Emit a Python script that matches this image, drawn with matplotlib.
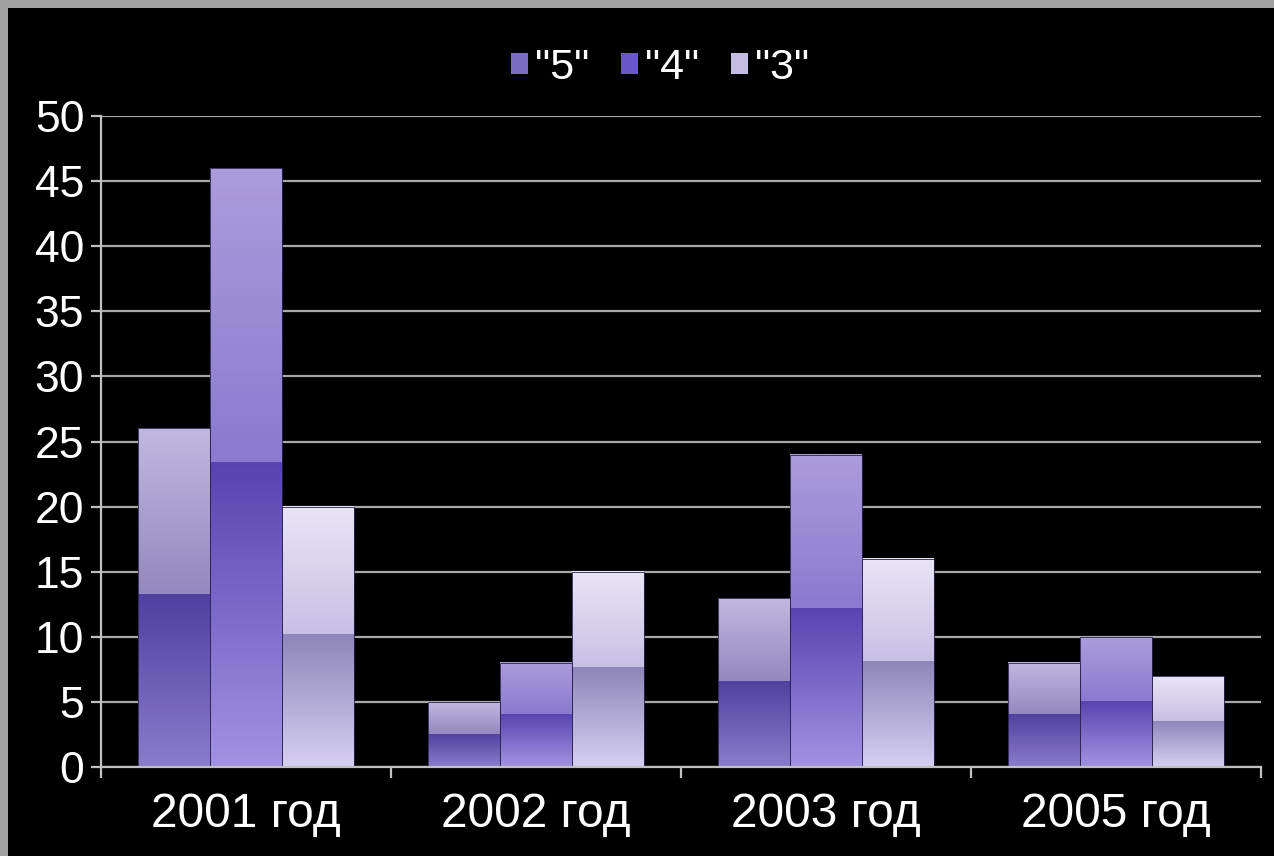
import matplotlib
matplotlib.use("Agg")
import matplotlib.pyplot as plt
import numpy as np
from matplotlib.patches import Patch, Rectangle
from matplotlib.colors import LinearSegmentedColormap

categories = ["2001 год", "2002 год", "2003 год", "2005 год"]
series_names = ['"5"', '"4"', '"3"']
values_5 = [26, 5, 13, 8]
values_4 = [46, 8, 24, 10]
values_3 = [20, 15, 16, 7]
y_ticks = [0, 5, 10, 15, 20, 25, 30, 35, 40, 45, 50]

# gradient stops: (lower-bottom, lower-top, upper-bottom, upper-top)
grad = [
    ("#8a7ccc", "#5040a0", "#9488c0", "#c0b8e0"),
    ("#a292e2", "#5844b0", "#8a7ad0", "#ab9cdc"),
    ("#d6cff2", "#8e86b8", "#c8c0e4", "#e9e5f5"),
]
legend_cols = ["#7a6cc0", "#6a58c8", "#c4bce2"]
split = 0.51

plt.rcParams['font.family'] = ['Liberation Sans', 'DejaVu Sans']

fig = plt.figure(figsize=(12.74, 8.56), dpi=100)
fig.patch.set_facecolor("#a0a0a0")
fig.patches.append(Rectangle((8/1274, 0), 1, 1 - 8/856, transform=fig.transFigure,
                             facecolor="black", edgecolor="none", zorder=-10))

ax = fig.add_axes([101/1274, 89/856, 1160/1274, 651/856])
ax.set_facecolor("black")
ax.patch.set_alpha(0)

x = np.arange(len(categories))
w = 0.248
all_vals = [values_5, values_4, values_3]
offsets = [-w, 0, w]

def gradbar(x0, x1, y0, y1, c0, c1):
    cmap = LinearSegmentedColormap.from_list("g", [c0, c1])
    g = np.linspace(0, 1, 64).reshape(-1, 1)
    ax.imshow(g, cmap=cmap, extent=[x0, x1, y0, y1], origin="lower",
              aspect="auto", zorder=3, interpolation="bilinear")

for si, vals in enumerate(all_vals):
    for xi, v in zip(x, vals):
        x0 = xi + offsets[si] - w / 2
        x1 = x0 + w
        c = grad[si]
        gradbar(x0, x1, 0, v * split, c[0], c[1])
        gradbar(x0, x1, v * split, v, c[2], c[3])
        ax.add_patch(Rectangle((x0, 0), w, v, facecolor="none",
                               edgecolor="#2a2450", lw=0.6, zorder=4))

ax.set_xlim(-0.5, len(categories) - 0.5)
ax.set_ylim(0, 50)
ax.set_yticks(y_ticks)
ax.set_yticklabels([str(t) for t in y_ticks])
ax.yaxis.grid(True, color="#a8a8a8", lw=1.6, zorder=1)
ax.set_axisbelow(True)

ax.set_xticks(x)
ax.set_xticklabels(categories)
ax.set_xticks(np.arange(-0.5, len(categories)), minor=True)
ax.tick_params(axis="x", which="major", length=0, pad=18, labelsize=34.5, labelcolor="white")
ax.tick_params(axis="x", which="minor", length=8, width=1.6, color="#c0c0c0", direction="out")
ax.tick_params(axis="y", length=7, width=1.6, color="#c0c0c0", pad=5, labelsize=32, labelcolor="white")

for s in ["top", "right"]:
    ax.spines[s].set_visible(False)
ax.spines["left"].set_color("#c0c0c0")
ax.spines["left"].set_linewidth(1.6)
ax.spines["bottom"].set_color("#c0c0c0")
ax.spines["bottom"].set_linewidth(1.6)
ax.spines["bottom"].set_zorder(5)

handles = [Patch(facecolor=c, edgecolor="none") for c in legend_cols]
leg = fig.legend(handles, series_names, loc="center", bbox_to_anchor=(660/1274, 1 - 68/856),
                 ncol=3, frameon=False, fontsize=31, handlelength=0.4, handleheight=0.4,
                 handletextpad=0.15, columnspacing=0.75, labelcolor="white")

fig.savefig("out.png", dpi=100, facecolor=fig.get_facecolor())
